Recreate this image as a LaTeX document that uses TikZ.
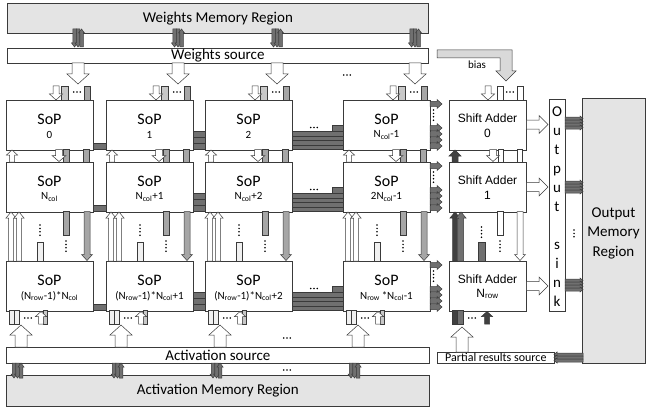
\documentclass[tikz,border=0pt]{standalone}
\usepackage{fontspec}
\setmainfont{Carlito}
\newfontfamily\arialf{Liberation Sans}
\usetikzlibrary{calc}
\definecolor{memfill}{HTML}{E4E4E4}
\definecolor{cDark}{HTML}{707070}
\definecolor{cDarkest}{HTML}{404040}
\definecolor{cMed}{HTML}{A6A6A6}
\definecolor{cLight}{HTML}{C8C8C8}
\definecolor{cVLight}{HTML}{F0F0F0}
\definecolor{cBias}{HTML}{D9D9D9}
\definecolor{cLine}{HTML}{3A3A3A}
\newcommand\myD[7]{\filldraw[arrline,fill=#7] ({#1-#4/2},{#2}) -- ({#1+#4/2},{#2}) -- ({#1+#4/2},{#3-#6}) -- ({#1+#5/2},{#3-#6}) -- ({#1},{#3}) -- ({#1-#5/2},{#3-#6}) -- ({#1-#4/2},{#3-#6}) -- cycle;}
\newcommand\myU[7]{\filldraw[arrline,fill=#7] ({#1-#4/2},{#2}) -- ({#1+#4/2},{#2}) -- ({#1+#4/2},{#3+#6}) -- ({#1+#5/2},{#3+#6}) -- ({#1},{#3}) -- ({#1-#5/2},{#3+#6}) -- ({#1-#4/2},{#3+#6}) -- cycle;}
\newcommand\myR[7]{\filldraw[arrline,fill=#7] ({#2},{#1-#4/2}) -- ({#3-#6},{#1-#4/2}) -- ({#3-#6},{#1-#5/2}) -- ({#3},{#1}) -- ({#3-#6},{#1+#5/2}) -- ({#3-#6},{#1+#4/2}) -- ({#2},{#1+#4/2}) -- cycle;}
\newcommand\myL[7]{\filldraw[arrline,fill=#7] ({#2},{#1-#4/2}) -- ({#3+#6},{#1-#4/2}) -- ({#3+#6},{#1-#5/2}) -- ({#3},{#1}) -- ({#3+#6},{#1+#5/2}) -- ({#3+#6},{#1+#4/2}) -- ({#2},{#1+#4/2}) -- cycle;}
\newcommand\myB[5]{\filldraw[arrline,fill=#5] ({#1},{#2}) rectangle ({#3},{#4});}
\newcommand\myHD[2]{\foreach \dd in {-3.3,0,3.3} {\fill[black] ({#1+(\dd)},{#2}) circle[radius=0.85pt];}}
\newcommand\myVD[3]{\foreach \dd in {1,...,#3} {\fill[black] ({#1},{#2+3.4*(\dd-1)}) circle[radius=0.85pt];}}
\newcommand\sopbox[4]{%
  \node[boxst,minimum width=87pt,minimum height=49.5pt,anchor=north west] (#1) at (#2,#3) {};
  \node[sopfont] (#1a) at ({#2+43.5},{#3+19}) {SoP};
  \node[numfont] (#1b) at ({#2+43.5},{#3+35}) {#4};}
\begin{document}
\begin{tikzpicture}[x=1pt,y=-1pt,
  arrline/.style={draw=cLine,line width=0.5pt},
  boxst/.style={draw=cLine,line width=0.7pt,fill=white,inner sep=0pt},
  memst/.style={draw=cLine,line width=0.7pt,fill=memfill,inner sep=0pt},
  bigfont/.style={font=\fontsize{15}{17}\selectfont},
  sopfont/.style={font=\fontsize{16}{18}\selectfont,inner sep=0pt},
  numfont/.style={font=\fontsize{11}{13}\selectfont,inner sep=0pt},
  safont/.style={font=\arialf\fontsize{12}{14}\selectfont,inner sep=0pt}]
\useasboundingbox (0,0) rectangle (647,409);

% ---------- memory regions and sources ----------
\node[memst,bigfont,minimum width=421pt,minimum height=30pt,anchor=north west] (wmr) at (7,3) {Weights Memory Region};
\node[boxst,bigfont,minimum width=421pt,minimum height=15pt,anchor=north west] (wsrc) at (7,48) {Weights source};
\node[boxst,bigfont,minimum width=423pt,minimum height=16pt,anchor=north west] (asrc) at (6,347) {Activation source};
\node[memst,bigfont,minimum width=423pt,minimum height=31pt,anchor=north west] (amr) at (6,375) {Activation Memory Region};
\node[memst,minimum width=63pt,minimum height=265pt,anchor=north west] (omr) at (582,98) {};
\node[align=center,font=\fontsize{15}{19.5}\selectfont,inner sep=0pt] (omrt) at (613.5,233) {Output\\Memory\\Region};
\node[boxst,minimum width=16pt,minimum height=212pt,anchor=north west] (sink) at (549,99) {};
\node[align=center,font=\fontsize{15}{19}\selectfont,inner sep=0pt] (sinkt) at (557,207) {O\\u\\t\\p\\u\\t\\[19pt]s\\i\\n\\k};
\node[boxst,font=\fontsize{12}{13}\selectfont,minimum width=117pt,minimum height=11pt,anchor=north west] (psrc) at (437,352) {Partial results source};

% ---------- SoP boxes ----------
\sopbox{s11}{6}{100}{0}
\sopbox{s12}{106}{100}{1}
\sopbox{s13}{205}{100}{2}
\sopbox{s14}{343}{100}{N\textsubscript{col}-1}
\sopbox{s21}{6}{162}{N\textsubscript{col}}
\sopbox{s22}{106}{162}{N\textsubscript{col}+1}
\sopbox{s23}{205}{162}{N\textsubscript{col}+2}
\sopbox{s24}{343}{162}{2N\textsubscript{col}-1}
\sopbox{s31}{6}{261}{(N\textsubscript{row}-1)*N\textsubscript{col}}
\sopbox{s32}{106}{261}{(N\textsubscript{row}-1)*N\textsubscript{col}+1}
\sopbox{s33}{205}{261}{(N\textsubscript{row}-1)*N\textsubscript{col}+2}
\sopbox{s34}{343}{261}{N\textsubscript{row}\,*N\textsubscript{col}-1}

% ---------- Shift adders ----------
\node[boxst,minimum width=77pt,minimum height=49.5pt,anchor=north west] (sa0) at (449,100) {};
\node[safont] (sa0a) at (487.5,118) {Shift Adder};
\node[safont] (sa0b) at (487.5,133) {0};
\node[boxst,minimum width=77pt,minimum height=49.5pt,anchor=north west] (sa1) at (449,162) {};
\node[safont] (sa1a) at (487.5,180) {Shift Adder};
\node[safont] (sa1b) at (487.5,195) {1};
\node[boxst,minimum width=77pt,minimum height=49.5pt,anchor=north west] (sa2) at (449,261) {};
\node[safont] (sa2a) at (487.5,279) {Shift Adder};
\node[safont] (sa2b) at (487.5,294) {N\textsubscript{row}};

% ---------- weights memory -> weights source -> SoP ----------
\foreach \cx in {78,178,277,415} {
  \myD{\cx-3.5}{29}{47}{3.5}{6}{4}{cDark}
  \myD{\cx}{29}{47}{3.5}{6}{4}{cDark}
  \myU{\cx+3.5}{47}{29}{3.5}{6}{4}{cDark}
  \myD{\cx}{63}{84}{12}{22}{10}{white}
}
\myHD{347}{75}

% ---------- vertical lanes per SoP column ----------
\foreach \L in {6,106,205,343} {
  % above row 1
  \myB{\L+55}{86}{\L+62}{100}{cLight}
  \myB{\L+78}{86}{\L+84}{100}{cMed}
  \myD{\L+50}{86}{100}{6}{13}{6}{white}
  \myHD{\L+71}{92}
  % gap row1-row2
  \myU{\L+6}{162}{150}{5}{11}{5}{white}
  \myB{\L+57}{149.5}{\L+63}{162}{cMed}
  \myD{\L+53}{149.5}{161.5}{7}{14}{6}{white}
  \myB{\L+77}{149.5}{\L+83}{162}{cMed}
  % gap row2-row3
  \myU{\L+5}{261}{212}{5}{10}{6}{white}
  \myU{\L+13}{261}{212}{5}{10}{6}{white}
  \myB{\L+31}{242}{\L+37}{261}{cVLight}
  \myVD{\L+34}{225}{4}
  \myB{\L+57}{211.5}{\L+63}{235}{cMed}
  \myVD{\L+60}{241}{4}
  \myD{\L+81}{211.5}{260.5}{6}{11}{6}{cMed}
  % below row 3
  \myB{\L+3}{310.5}{\L+8}{324}{cVLight}
  \myB{\L+8}{310.5}{\L+13}{324}{cVLight}
  \myHD{\L+22}{318}
  \myB{\L+37}{310.5}{\L+41}{324}{cLight}
  \myU{\L+35}{324}{311.5}{5}{11}{5}{white}
  \myU{\L+15}{347}{325}{12}{22}{10}{white}
  % activation source <-> memory
  \myD{\L+8}{363}{378}{3.5}{6}{4}{cDark}
  \myD{\L+11.5}{363}{378}{3.5}{6}{4}{cDark}
  \myU{\L+15}{378}{363}{3.5}{6}{4}{cDark}
}
\myHD{287}{338}
\myHD{287}{370}

% ---------- horizontal buses between SoP columns ----------
\foreach \T in {100,162,261} {
  \pgfmathsetmacro\Bt{\T+49.5}
  \myB{93}{\Bt-6}{106}{\Bt}{cDark}
  \foreach \k in {0,1,2} {\myB{193}{\Bt-6-6*\k}{205}{\Bt-6*\k}{cDark}}
  \foreach \k in {0,1,2,3} {\myB{292}{\Bt-4.5-4.5*\k}{343}{\Bt-4.5*\k}{cDark}}
  \myB{332}{\Bt-24}{343}{\Bt-18}{cDark}
  \myHD{314}{\Bt-22}
  % outputs of last column
  \myR{\T+4}{430}{442}{5}{9}{5}{cDark}
  \myVD{433.5}{\T+10}{4}
  \foreach \k in {0,1,2,3} {\myR{\T+28+6*\k}{430}{442}{5}{9}{5}{cDark}}
}

% ---------- shift adder column ----------
\myB{497}{86}{503}{100}{white}
\myB{517}{86}{523}{100}{white}
\myD{488}{86}{100}{6}{13}{6}{white}
\myHD{510}{92}
\myU{455}{162}{150}{6}{12}{6}{cDarkest}
\myB{498}{149.5}{503}{162}{white}
\myD{493}{149.5}{161.5}{7}{13}{6}{white}
\myB{517}{149.5}{522}{162}{white}
\myU{455}{261}{212}{5}{10}{6}{cDarkest}
\myU{461}{261}{212}{5}{10}{6}{cDark}
\myB{478}{242}{485}{261}{cDark}
\myVD{481.5}{227}{4}
\myB{497}{211.5}{503}{235}{white}
\myVD{500}{241}{4}
\myD{520}{211.5}{260.5}{6}{11}{6}{white}
\myB{452}{310.5}{457}{324}{cDarkest}
\myB{457}{310.5}{463}{324}{cDark}
\myHD{472}{318}
\myU{487}{324}{311.5}{5}{11}{5}{cDarkest}
\myU{462}{352}{327}{12}{22}{10}{white}

% ---------- bias ----------
\filldraw[arrline,fill=cBias] (437,50) -- (512,50) -- (512,71) -- (516,71) -- (506,81) -- (496,71) -- (500,71) -- (500,58) -- (437,58) -- cycle;
\node[font=\fontsize{11}{13}\selectfont,inner sep=0pt] (biast) at (477,65) {bias};

% ---------- shift adders -> output sink ----------
\foreach \yy in {124.5,187,286} {\myR{\yy}{526.5}{548}{9}{18}{9}{white}}

% ---------- output sink -> output memory ----------
\foreach \yy in {123,187,285} {
  \foreach \k in {-1.5,-0.5,0.5,1.5} {\myR{\yy+3*\k}{565}{583}{3}{5}{3}{cDark}}
}
\myVD{574}{230}{3}
% output memory -> partial results source
\foreach \k in {-1,0,1} {\myL{357.5+3*\k}{583}{554}{3}{5}{3}{cDark}}
\end{tikzpicture}
\end{document}
